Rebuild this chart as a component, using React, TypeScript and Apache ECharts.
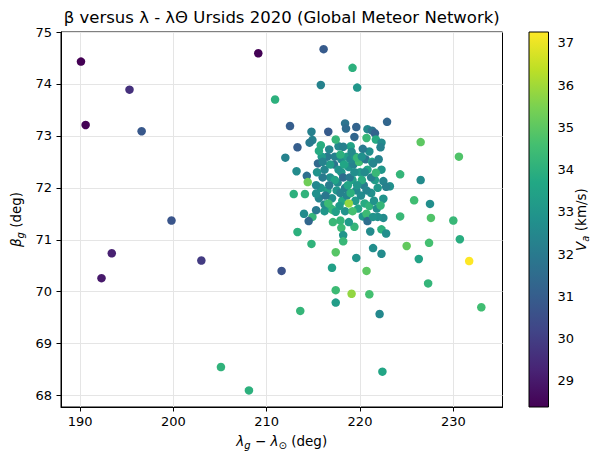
import React, { useEffect, useRef } from "react";
import * as echarts from "echarts";

// Dense core of the radiant cluster
const coreLambda = [
  216.2, 216.8, 217.2, 217.6, 218.0, 218.4, 218.8, 219.2, 219.6, 220.0,
  220.4, 220.8, 221.2, 221.6, 216.5, 217.0, 217.5, 218.1, 218.6, 219.0,
  219.5, 220.1, 220.5, 221.0, 221.5, 216.0, 215.8, 215.6, 216.3, 217.3,
  218.0, 218.6, 219.3, 219.9, 220.6, 221.0, 220.3, 219.0, 217.7, 216.5,
  216.8, 218.2, 218.9, 219.4, 220.2, 220.7, 221.9, 221.8, 219.8, 218.4,
  217.8, 216.9, 216.2, 219.2, 220.3, 219.7, 218.7, 217.9, 217.3, 216.7,
  217.7, 219.0, 220.5, 221.3, 215.9, 222.0, 222.3, 215.4, 218.3, 219.5,
  221.2,
];
const coreBeta = [
  72.35, 72.2, 72.45, 72.1, 72.3, 72.0, 72.4, 72.15, 71.95, 72.3,
  72.05, 72.35, 71.9, 72.15, 71.95, 71.8, 71.95, 71.75, 71.85, 71.9,
  71.75, 71.85, 71.7, 71.65, 71.75, 72.2, 72.0, 71.8, 71.85, 72.6,
  72.55, 72.6, 72.45, 72.5, 72.55, 72.7, 72.75, 72.8, 72.8, 72.6,
  72.45, 72.2, 72.2, 72.3, 72.15, 71.95, 72.0, 71.6, 71.6, 71.55,
  71.65, 71.6, 71.55, 71.55, 71.45, 72.05, 72.05, 71.9, 72.15, 72.05,
  72.35, 72.55, 72.3, 72.5, 72.6, 72.55, 72.35, 72.3, 72.45, 72.6,
  72.2,
];
const coreVel = [
  32.4, 32.8, 31.8, 32.6, 33.1, 32.2, 32.9, 33.4, 32.5, 33.2,
  32.1, 33.6, 32.8, 33.3, 33.5, 32.7, 33.0, 33.7, 32.4, 34.0,
  33.2, 32.6, 33.8, 34.1, 32.9, 32.0, 33.0, 32.4, 31.9, 32.2,
  32.6, 33.3, 32.3, 34.5, 31.9, 32.7, 32.0, 33.5, 32.5, 32.0,
  33.3, 31.5, 32.0, 32.7, 33.9, 32.4, 33.1, 32.7, 33.5, 32.9,
  33.2, 34.0, 33.0, 34.6, 33.0, 33.0, 33.6, 32.3, 33.5, 32.1,
  32.9, 32.5, 32.6, 33.5, 33.2, 32.3, 33.0, 32.9, 33.6, 33.0,
  32.2,
];

// Surrounding and outlying meteors
const outerLambda = [
  190.1, 195.3, 190.6, 196.6, 199.8, 193.4, 203.0, 192.3, 209.1, 216.1,
  215.8, 210.9, 219.2, 219.7, 212.5, 222.9, 214.8, 216.6, 218.4, 218.5,
  219.6, 220.8, 221.3, 221.6, 219.4, 220.7, 221.7, 222.3, 222.2, 226.5,
  230.6, 217.4, 214.9, 214.6, 215.8, 213.3, 216.7, 215.6, 218.2, 212.0,
  217.9, 219.1, 219.7, 220.2, 213.2, 214.3, 214.4, 215.5, 216.0, 221.4,
  221.7, 224.3, 226.5, 222.5, 223.2, 222.8, 212.9, 214.1, 215.3, 215.3,
  225.8, 227.5, 222.5, 222.2, 224.3, 227.6, 230.0, 230.7, 222.5, 221.9,
  220.7, 220.8, 219.4, 221.1, 222.3, 222.8, 225.0, 227.4, 221.4, 222.3,
  219.6, 226.3, 231.7, 220.7, 227.3, 217.4, 219.1, 221.0, 217.4, 213.6,
  222.1, 233.0, 205.1, 208.1, 222.4, 211.6, 217.0, 217.4, 214.8, 213.3,
  214.0, 214.9, 214.5, 215.3, 216.2, 217.1, 218.0, 218.2, 218.2, 217.9,
  218.8, 217.4, 218.8, 216.6, 217.1, 221.4,
];
const outerBeta = [
  74.43, 73.89, 73.21, 73.09, 71.37, 70.74, 70.6, 70.26, 74.59, 74.67,
  73.98, 73.7, 74.31, 73.93, 73.19, 73.27, 73.08, 73.08, 73.24, 73.14,
  73.17, 73.13, 73.1, 73.05, 72.98, 72.96, 72.93, 72.87, 72.78, 72.88,
  72.6, 72.93, 72.92, 72.87, 72.82, 72.78, 72.74, 72.71, 72.79, 72.58,
  72.64, 72.69, 72.58, 72.6, 72.32, 72.23, 72.11, 72.47, 72.5, 72.47,
  72.29, 72.26, 72.15, 72.13, 72.03, 72.02, 71.88, 71.88, 71.89, 72.05,
  71.76, 71.69, 71.79, 71.66, 71.45, 71.42, 71.37, 71.01, 71.42, 71.44,
  71.5, 71.36, 71.25, 71.16, 71.2, 71.12, 70.88, 70.94, 70.84, 70.73,
  70.65, 70.63, 70.59, 70.4, 70.16, 70.03, 69.96, 69.95, 69.79, 69.63,
  69.57, 69.7, 68.55, 68.1, 68.46, 70.4, 70.46, 70.76, 70.92, 71.15,
  71.5, 71.44, 71.36, 71.57, 71.68, 71.57, 71.23, 71.09, 70.97, 71.37,
  71.34, 71.54, 71.7, 71.7, 71.34, 71.44,
];
const outerVel = [
  28.38, 29.6, 28.4, 30.8, 30.7, 29.2, 29.9, 29.0, 28.4, 30.9,
  32.3, 34.0, 34.0, 33.0, 31.0, 31.3, 32.2, 30.9, 31.8, 31.5,
  31.2, 32.5, 31.8, 31.2, 31.3, 34.3, 33.8, 32.6, 32.3, 35.0,
  34.8, 34.2, 32.3, 32.0, 33.9, 31.0, 32.4, 33.8, 32.2, 32.3,
  34.0, 32.6, 34.3, 32.8, 32.6, 31.6, 35.3, 31.4, 32.3, 32.4,
  34.3, 34.2, 32.6, 32.4, 32.8, 32.2, 34.0, 34.1, 32.8, 32.5,
  34.5, 32.7, 32.9, 34.2, 34.3, 34.8, 34.3, 33.9, 32.6, 32.8,
  34.4, 31.6, 34.2, 32.6, 34.0, 32.7, 35.1, 34.6, 32.7, 32.6,
  32.9, 33.5, 37.26, 35.0, 34.2, 34.4, 35.8, 34.6, 33.3, 34.2,
  32.5, 34.5, 34.1, 34.0, 33.6, 30.6, 33.4, 34.9, 34.1, 34.0,
  32.6, 34.2, 31.3, 32.0, 32.6, 34.3, 34.4, 33.0, 34.3, 34.2,
  33.2, 33.4, 35.8, 34.4, 34.3, 32.9,
];

const xTicks = [190, 200, 210, 220, 230];
const yTicks = [68, 69, 70, 71, 72, 73, 74, 75];
const cbTicks = [29, 30, 31, 32, 33, 34, 35, 36, 37];
const velMin = 28.38;
const velMax = 37.26;

const viridis = [
  "#440154", "#482475", "#414487", "#355f8d", "#2a788e", "#21918c",
  "#22a884", "#44bf70", "#7ad151", "#bddf26", "#fde725",
];

const FONT = "DejaVu Sans";

function buildPoints(xs: number[], ys: number[], vs: number[]) {
  const n = Math.min(xs.length, ys.length, vs.length);
  const out: number[][] = [];
  for (let i = 0; i < n; i++) out.push([xs[i], ys[i], vs[i]]);
  return out;
}

export default function App() {
  const ref = useRef<HTMLDivElement>(null);
  useEffect(() => {
    document.body.style.margin = "0";
    const chart = echarts.init(ref.current!, null, { renderer: "svg" });
    const points = [
      ...buildPoints(coreLambda, coreBeta, coreVel),
      ...buildPoints(outerLambda, outerBeta, outerVel),
    ];
    const G = { left: 61, top: 32, width: 441.5, height: 375 };
    const CB = { left: 529, top: 32, width: 19.5, height: 375 };
    const textColor = "#000";
    const LF = 13.5;
    const sub = { fontFamily: FONT, fontSize: 10, fontStyle: "italic", padding: [7, 0, 0, 0], verticalAlign: "top", fill: textColor } as any;
    const it = { fontFamily: FONT, fontSize: LF, fontStyle: "italic", verticalAlign: "top", fill: textColor } as any;
    const nm = { fontFamily: FONT, fontSize: LF, verticalAlign: "top", fill: textColor } as any;
    const subUp = { fontFamily: FONT, fontSize: 10, padding: [7, 0, 0, 0], verticalAlign: "top", fill: textColor } as any;
    const tickLabel = { interval: 0, hideOverlap: false, color: textColor, fontFamily: FONT, fontSize: 13 };

    chart.setOption({
      animation: false,
      backgroundColor: "#fff",
      grid: [
        { ...G, show: true, borderColor: "#000", borderWidth: 1, backgroundColor: "transparent", containLabel: false },
        { ...CB, show: false, containLabel: false },
      ],
      xAxis: [
        {
          type: "value",
          gridIndex: 0,
          min: 187.96,
          max: 235.27,
          splitNumber: 5,
          axisLine: { show: true, onZero: false, lineStyle: { color: "#000", width: 1 } },
          axisTick: { show: true, customValues: xTicks, length: 4.5, lineStyle: { color: "#000" } },
          axisLabel: { ...tickLabel, customValues: xTicks, margin: 8 },
          splitLine: { show: true, lineStyle: { color: "#e5e5e5", width: 1 } },
        },
        { type: "value", gridIndex: 1, show: false, min: 0, max: 1 },
      ],
      yAxis: [
        {
          type: "value",
          gridIndex: 0,
          min: 67.78,
          max: 75,
          splitNumber: 7,
          axisLine: { show: true, onZero: false, lineStyle: { color: "#000", width: 1 } },
          axisTick: { show: true, customValues: yTicks, length: 4.5, lineStyle: { color: "#000" } },
          axisLabel: { ...tickLabel, customValues: yTicks, margin: 9 },
          splitLine: { show: true, lineStyle: { color: "#e5e5e5", width: 1 } },
        },
        {
          type: "value",
          gridIndex: 1,
          position: "right",
          min: velMin,
          max: velMax,
          splitNumber: 9,
          axisLine: { show: false },
          axisTick: { show: true, customValues: cbTicks, length: 4.5, lineStyle: { color: "#000" } },
          axisLabel: { ...tickLabel, customValues: cbTicks, margin: 9 },
          splitLine: { show: false },
        },
      ],
      visualMap: {
        type: "continuous",
        show: false,
        min: velMin,
        max: velMax,
        dimension: 2,
        seriesIndex: 0,
        inRange: { color: viridis },
      },
      series: [
        {
          type: "scatter",
          xAxisIndex: 0,
          yAxisIndex: 0,
          symbol: "circle",
          symbolSize: 8.5,
          data: points,
          itemStyle: { opacity: 1 },
          emphasis: { disabled: true },
        },
      ],
      graphic: [
        {
          type: "rect",
          shape: { x: CB.left, y: CB.top, width: CB.width, height: CB.height },
          style: {
            fill: new echarts.graphic.LinearGradient(
              0, 1, 0, 0,
              viridis.map((c, i) => ({ offset: i / (viridis.length - 1), color: c }))
            ),
            stroke: "#000",
            lineWidth: 1,
          },
          z: 10,
        },
        {
          type: "text",
          x: G.left + G.width / 2,
          y: 17,
          style: {
            text: "β versus λ - λΘ Ursids 2020 (Global Meteor Network)",
            fontFamily: FONT,
            fontSize: 16.5,
            fill: textColor,
            align: "center",
            verticalAlign: "middle",
          },
        },
        {
          type: "text",
          x: G.left + G.width / 2,
          y: 442,
          style: {
            text: "{it|λ}{sub|g}{nm| − }{it|λ}{subUp|⊙}{nm| (deg)}",
            rich: { it, sub, nm, subUp },
            align: "center",
            verticalAlign: "middle",
          },
        },
        {
          type: "text",
          x: 17,
          y: G.top + G.height / 2,
          rotation: Math.PI / 2,
          style: {
            text: "{it|β}{sub|g}{nm| (deg)}",
            rich: { it, sub, nm },
            align: "center",
            verticalAlign: "middle",
          },
        },
        {
          type: "text",
          x: 582,
          y: CB.top + CB.height / 2,
          rotation: Math.PI / 2,
          style: {
            text: "{it|V}{sub|a}{nm| (km/s)}",
            rich: { it, sub, nm },
            align: "center",
            verticalAlign: "middle",
          },
        },
      ],
    });
    return () => chart.dispose();
  }, []);
  return <div ref={ref} style={{ width: 594, height: 455 }} />;
}
